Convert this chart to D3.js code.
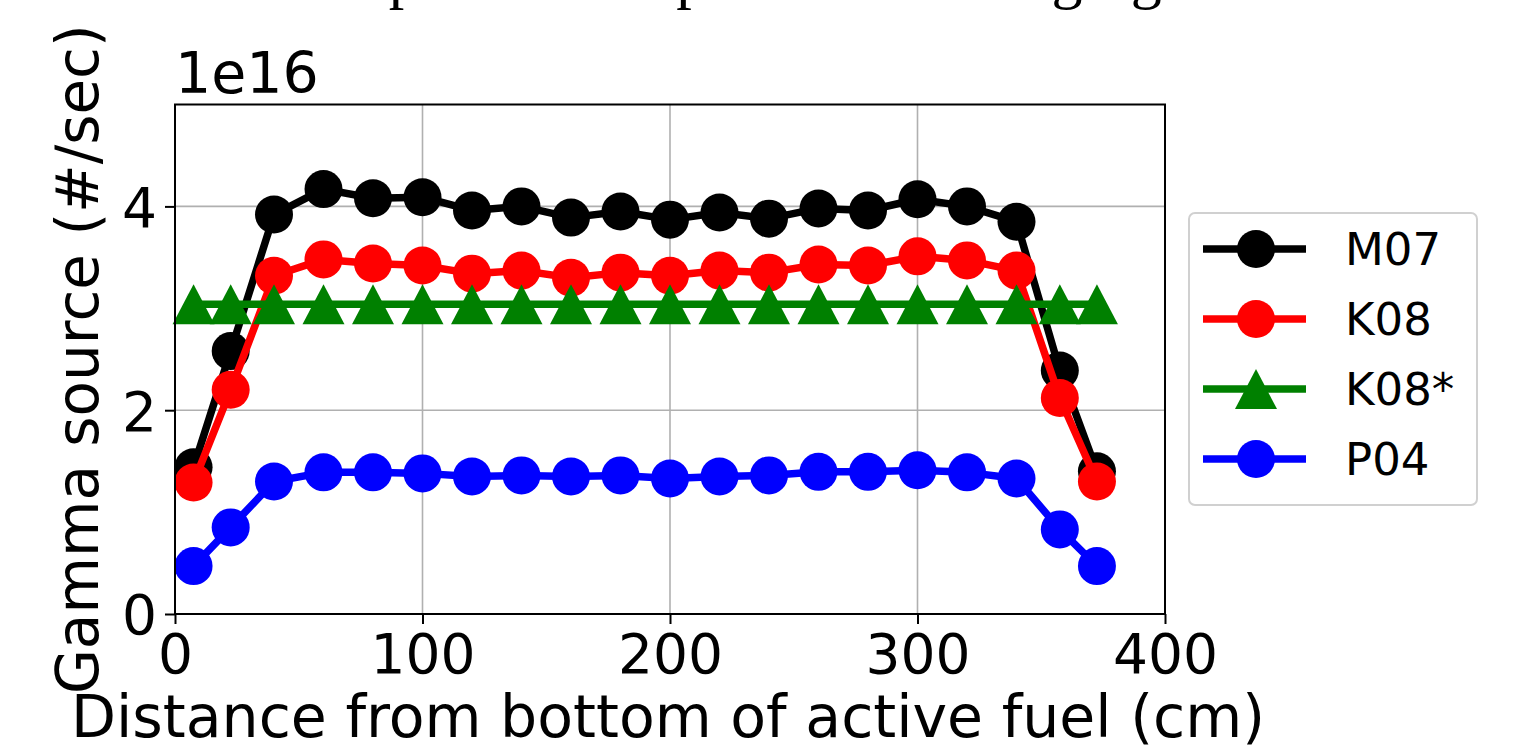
<!DOCTYPE html>
<html>
<head>
<meta charset="utf-8">
<script src="https://cdn.jsdelivr.net/npm/d3@7"></script>
<style>
  body { margin: 0; background: #fff; }
  svg { display: block; }
</style>
</head>
<body>
<div id="chart"></div>
<script>
// distance from bottom of active fuel (cm)
var positions = [7.5, 22.5, 40, 60, 80, 100, 120, 140, 160, 180, 200, 220, 240, 260, 280, 300, 320, 340, 357.5, 372.5];
// gamma source, units of 1e16 #/sec
var m07 = [1.44, 2.58, 3.92, 4.17, 4.08, 4.09, 3.96, 4.00, 3.89, 3.95, 3.87, 3.94, 3.88, 3.98, 3.96, 4.07, 4.00, 3.85, 2.39, 1.40];
var k08 = [1.29, 2.20, 3.32, 3.48, 3.44, 3.42, 3.34, 3.37, 3.30, 3.35, 3.32, 3.37, 3.35, 3.43, 3.42, 3.51, 3.47, 3.37, 2.12, 1.30];
var k08star = [3.04, 3.04, 3.04, 3.04, 3.04, 3.04, 3.04, 3.04, 3.04, 3.04, 3.04, 3.04, 3.04, 3.04, 3.04, 3.04, 3.04, 3.04, 3.04, 3.04];
var p04 = [0.47, 0.85, 1.30, 1.39, 1.39, 1.38, 1.35, 1.36, 1.35, 1.36, 1.33, 1.35, 1.36, 1.395, 1.395, 1.41, 1.39, 1.33, 0.83, 0.47];
var seriesNames = ["M07", "K08", "K08*", "P04"];
var seriesColors = ["#000000", "#ff0000", "#008000", "#0000ff"];
var seriesMarkers = ["circle", "circle", "triangle", "circle"];
var xTicks = [0, 100, 200, 300, 400];
var yTicks = [0, 2, 4];

var series = [m07, k08, k08star, p04].map(function(vals, i) {
  return {
    name: seriesNames[i],
    color: seriesColors[i],
    marker: seriesMarkers[i],
    values: vals.map(function(v, j) { return {x: positions[j], y: v}; })
  };
});

var W = 1527, H = 749;
var margin = {top: 104.5, right: 362, bottom: 135, left: 175},
    width = W - margin.left - margin.right,
    height = H - margin.top - margin.bottom;

var font = "'DejaVu Sans', sans-serif";

var svg = d3.select("#chart").append("svg")
    .attr("width", W)
    .attr("height", H);

// title, cut off by the top edge (only descenders show)
svg.append("text")
    .attr("x", 177)
    .attr("y", -3)
    .attr("font-family", "'Liberation Serif', serif")
    .attr("font-size", 62)
    .text("Gamma profile comparison at changing level");

var g = svg.append("g")
    .attr("transform", "translate(" + margin.left + "," + margin.top + ")");

var x = d3.scaleLinear().domain([0, 400]).range([0, width]);
var y = d3.scaleLinear().domain([0, 5]).range([height, 0]);

// grid
g.append("g").selectAll("line")
    .data(xTicks)
  .enter().append("line")
    .attr("x1", function(d) { return x(d); })
    .attr("x2", function(d) { return x(d); })
    .attr("y1", 0).attr("y2", height)
    .attr("stroke", "#b0b0b0").attr("stroke-width", 1.6);
g.append("g").selectAll("line")
    .data(yTicks)
  .enter().append("line")
    .attr("x1", 0).attr("x2", width)
    .attr("y1", function(d) { return y(d); })
    .attr("y2", function(d) { return y(d); })
    .attr("stroke", "#b0b0b0").attr("stroke-width", 1.6);

var line = d3.line()
    .x(function(d) { return x(d.x); })
    .y(function(d) { return y(d.y); });

var circleSym = d3.symbol().type(d3.symbolCircle).size(Math.PI * 19 * 19);
var triPath = "M0,-20L21,20L-21,20Z";

function markerPath(m) { return m === "triangle" ? triPath : circleSym(); }

var layer = g.selectAll(".series")
    .data(series)
  .enter().append("g")
    .attr("class", "series");

layer.append("path")
    .attr("d", function(d) { return line(d.values); })
    .attr("fill", "none")
    .attr("stroke", function(d) { return d.color; })
    .attr("stroke-width", 7.5)
    .attr("stroke-linejoin", "round");

layer.selectAll(".pt")
    .data(function(d) { return d.values.map(function(v) { return {x: v.x, y: v.y, color: d.color, marker: d.marker}; }); })
  .enter().append("path")
    .attr("class", "pt")
    .attr("transform", function(d) { return "translate(" + x(d.x) + "," + y(d.y) + ")"; })
    .attr("d", function(d) { return markerPath(d.marker); })
    .attr("fill", function(d) { return d.color; });

// axes
var xAxis = d3.axisBottom(x).tickValues(xTicks).tickSize(10).tickPadding(8).tickFormat(d3.format("d"));
var yAxis = d3.axisLeft(y).tickValues(yTicks).tickSize(10).tickPadding(8).tickFormat(d3.format("d"));

var gx = g.append("g")
    .attr("transform", "translate(0," + height + ")")
    .call(xAxis);
var gy = g.append("g").call(yAxis);

[gx, gy].forEach(function(a) {
  a.select(".domain").remove();
  a.selectAll("line").attr("stroke", "#000").attr("stroke-width", 2);
  a.selectAll("text").attr("font-family", font).attr("font-size", 55).attr("fill", "#000");
});
gx.selectAll("text").attr("dy", "0.75em");
gy.selectAll("text").attr("dy", "0.36em");

// frame
g.append("rect")
    .attr("width", width).attr("height", height)
    .attr("fill", "none").attr("stroke", "#000").attr("stroke-width", 2);

// offset text
g.append("text")
    .attr("x", 0).attr("y", -12)
    .attr("font-family", font).attr("font-size", 57)
    .text("1e16");

// axis labels
svg.append("text")
    .attr("x", margin.left + width / 2 - 2)
    .attr("y", 737)
    .attr("text-anchor", "middle")
    .attr("font-family", font).attr("font-size", 58.5)
    .text("Distance from bottom of active fuel (cm)");

svg.append("text")
    .attr("transform", "translate(98," + (margin.top + height / 2) + ") rotate(-90)")
    .attr("text-anchor", "middle")
    .attr("font-family", font).attr("font-size", 58)
    .text("Gamma source (#/sec)");

// legend
var legend = svg.append("g").attr("transform", "translate(1189,213)");
legend.append("rect")
    .attr("width", 288).attr("height", 292)
    .attr("rx", 6).attr("ry", 6)
    .attr("fill", "#fff").attr("stroke", "#d0d0d0").attr("stroke-width", 2);

var item = legend.selectAll(".item")
    .data(series)
  .enter().append("g")
    .attr("class", "item")
    .attr("transform", function(d, i) { return "translate(0," + (36 + i * 70) + ")"; });

item.append("line")
    .attr("x1", 14).attr("x2", 117)
    .attr("stroke", function(d) { return d.color; })
    .attr("stroke-width", 7.5);
item.append("path")
    .attr("transform", "translate(67,0)")
    .attr("d", function(d) { return markerPath(d.marker); })
    .attr("fill", function(d) { return d.color; });
item.append("text")
    .attr("x", 156).attr("dy", "0.36em")
    .attr("font-family", font).attr("font-size", 45)
    .text(function(d) { return d.name; });
</script>
</body>
</html>
